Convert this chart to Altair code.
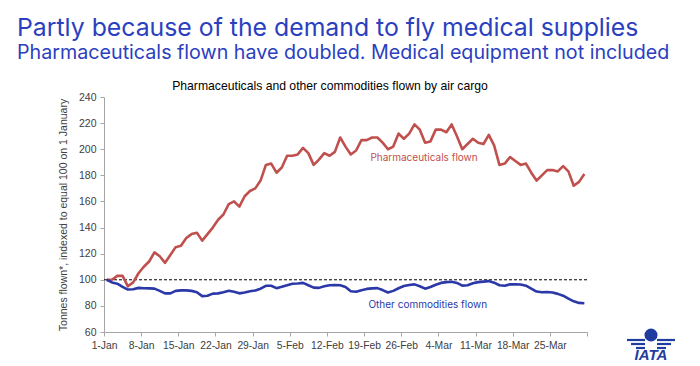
import altair as alt
import pandas as pd

# ---- data ----
tick_labels = ["1-Jan", "8-Jan", "15-Jan", "22-Jan", "29-Jan", "5-Feb", "12-Feb",
               "19-Feb", "26-Feb", "4-Mar", "11-Mar", "18-Mar", "25-Mar"]
y_ticks = [60, 80, 100, 120, 140, 160, 180, 200, 220, 240]

pharma = [100, 100, 103, 103, 95, 98, 105, 110, 114, 121,
          118, 113, 119, 125, 126, 132, 135, 136, 130, 135,
          140, 146, 150, 158, 160, 156, 164, 168, 170, 176,
          188, 189, 182, 186, 195, 195, 196, 201, 197, 188,
          192, 197, 195, 198, 209, 202, 196, 199, 207, 207,
          209, 209, 205, 200, 202, 212, 208, 212, 219, 215,
          205, 206, 215, 215, 213, 219, 210, 200, 204, 208,
          205, 204, 211, 203, 188, 189, 194, 191, 188, 189,
          182, 176, 180, 184, 184, 183, 187, 183, 172, 175,
          181]
other = [100, 98, 97, 94.5, 92.5, 92.8, 93.8, 93.5, 93.4, 93.2,
         91.5, 89.6, 89.6, 91.5, 91.9, 91.9, 91.5, 90.5, 87.5, 87.8,
         89.4, 89.6, 90.5, 91.6, 90.8, 89.6, 90.3, 91.2, 91.8, 93.2,
         95.4, 95.4, 93.6, 94.7, 95.9, 97, 97.2, 97.6, 95.8, 94,
         93.8, 95, 95.8, 96, 95.8, 94.5, 91.2, 90.8, 92, 93,
         93.4, 93.6, 92.1, 90.3, 91.5, 93.5, 95.2, 96, 96.5, 95,
         93.2, 94.5, 96.2, 97.6, 98.2, 98.5, 97.6, 95.5, 95.8, 97.3,
         98.2, 98.6, 99, 97.8, 95.8, 95.4, 96.5, 96.6, 96.4, 95.5,
         93.2, 91, 90.4, 90.6, 90.2, 89.2, 87.8, 85.5, 83.5, 82.3,
         82]

series_names = ["Pharmaceuticals flown", "Other commodities flown"]
series_colors = ["#C0504D", "#2B38A8"]

title1 = "Partly because of the demand to fly medical supplies"
title2 = "Pharmaceuticals flown have doubled. Medical equipment not included"
chart_title = "Pharmaceuticals and other commodities flown by air cargo"
y_title = "Tonnes flown*, indexed to equal 100 on 1 January"
baseline = [100]

# ---- tables ----
n = len(pharma)
df = pd.DataFrame({"day": [i + 0.5 for i in range(n)],
                   series_names[0]: pharma,
                   series_names[1]: other})
long = df.melt("day", var_name="series", value_name="value")

label_js = "[" + ",".join("'%s'" % t for t in tick_labels) + "]"

x_scale = alt.Scale(domain=[0, 91], nice=False, zero=False)
y_scale = alt.Scale(domain=[60, 240], nice=False, zero=False)

x_axis = alt.Axis(values=list(range(0, 92, 7)),
                  labelExpr=label_js + "[datum.value/7] || ''",
                  title=None, grid=False, tickSize=4, labelPadding=4,
                  labelFontSize=10.3, labelFont="Liberation Sans",
                  labelColor="#404040", domainColor="#A6A6A6",
                  tickColor="#A6A6A6", labelFlush=False, labelOverlap=False)
y_axis = alt.Axis(values=y_ticks, grid=False, tickSize=4, labelPadding=4,
                  labelFontSize=10.5, labelFont="Liberation Sans",
                  labelColor="#404040", domainColor="#A6A6A6",
                  tickColor="#A6A6A6", title=y_title, labelOverlap=False,
                  titleFont="Liberation Sans", titleFontSize=10.5,
                  titleFontWeight="normal", titleColor="#404040",
                  titleAngle=270, titleX=-41, titleY=117.5,
                  titleAlign="center", titleBaseline="middle")

lines = alt.Chart(long).mark_line(strokeWidth=2.6, strokeJoin="round").encode(
    x=alt.X("day:Q", scale=x_scale, axis=x_axis),
    y=alt.Y("value:Q", scale=y_scale, axis=y_axis),
    color=alt.Color("series:N", scale=alt.Scale(domain=series_names, range=series_colors),
                    legend=None),
    detail="series:N",
)

rule = alt.Chart(pd.DataFrame({"y": baseline})).mark_rule(
    color="black", strokeDash=[3, 2], strokeWidth=1).encode(
    y=alt.Y("y:Q", scale=y_scale, axis=y_axis))

one = pd.DataFrame({"k": [0]})

lab_ph = alt.Chart(one).mark_text(text=series_names[0], color=series_colors[0],
                                  font="Inter", fontSize=10).encode(
    x=alt.XDatum(60.3, scale=x_scale, axis=x_axis),
    y=alt.YDatum(193.5, scale=y_scale, axis=y_axis))
lab_ot = alt.Chart(one).mark_text(text=series_names[1], color=series_colors[1],
                                  font="Inter", fontSize=10).encode(
    x=alt.XDatum(61.0, scale=x_scale, axis=x_axis),
    y=alt.YDatum(80.4, scale=y_scale, axis=y_axis))

t1 = alt.Chart(one).mark_text(text=title1, color="#2B3FBF", font="Inter", fontSize=24.8,
                              align="left", baseline="middle").encode(
    x=alt.value(-87), y=alt.value(-68))
t2 = alt.Chart(one).mark_text(text=title2, color="#2B3FBF", font="Inter", fontSize=19.7,
                              align="left", baseline="middle").encode(
    x=alt.value(-87), y=alt.value(-44))
t3 = alt.Chart(one).mark_text(text=chart_title, color="#000000", font="Liberation Sans",
                              fontSize=12.2, align="center", baseline="middle").encode(
    x=alt.value(226), y=alt.value(-11))

# IATA logo (approximation)
logo_blue = "#1F3C9E"
globe = alt.Chart(one).mark_point(shape="circle", filled=True, size=170,
                                  color=logo_blue, opacity=1).encode(
    x=alt.value(547), y=alt.value(238))
wing_l1 = alt.Chart(one).mark_rule(color=logo_blue, strokeWidth=2.2).encode(
    x=alt.value(523), x2=alt.value(541), y=alt.value(243))
wing_l2 = alt.Chart(one).mark_rule(color=logo_blue, strokeWidth=2.2).encode(
    x=alt.value(527), x2=alt.value(541), y=alt.value(247))
wing_l3 = alt.Chart(one).mark_rule(color=logo_blue, strokeWidth=2.2).encode(
    x=alt.value(532), x2=alt.value(541), y=alt.value(251))
wing_r1 = alt.Chart(one).mark_rule(color=logo_blue, strokeWidth=2.2).encode(
    x=alt.value(553), x2=alt.value(571), y=alt.value(243))
wing_r2 = alt.Chart(one).mark_rule(color=logo_blue, strokeWidth=2.2).encode(
    x=alt.value(553), x2=alt.value(567), y=alt.value(247))
wing_r3 = alt.Chart(one).mark_rule(color=logo_blue, strokeWidth=2.2).encode(
    x=alt.value(553), x2=alt.value(562), y=alt.value(251))
iata = alt.Chart(one).mark_text(text="IATA", color=logo_blue, font="Liberation Sans",
                                fontSize=15, fontWeight="bold", fontStyle="italic",
                                align="center", baseline="middle").encode(
    x=alt.value(547), y=alt.value(258))

chart = alt.layer(rule, lines, lab_ph, lab_ot, t1, t2, t3,
                  globe, wing_l1, wing_l2, wing_l3, wing_r1, wing_r2, wing_r3, iata
                  ).properties(
    width=483, height=235,
    background="white",
    autosize=alt.AutoSizeParams(type="none"),
    padding={"left": 96, "top": 89, "right": 100, "bottom": 32},
).configure_view(stroke=None).configure_axis(labelOverlap=False)

chart.save("out.html", embed_options={"renderer": "svg", "actions": False})
